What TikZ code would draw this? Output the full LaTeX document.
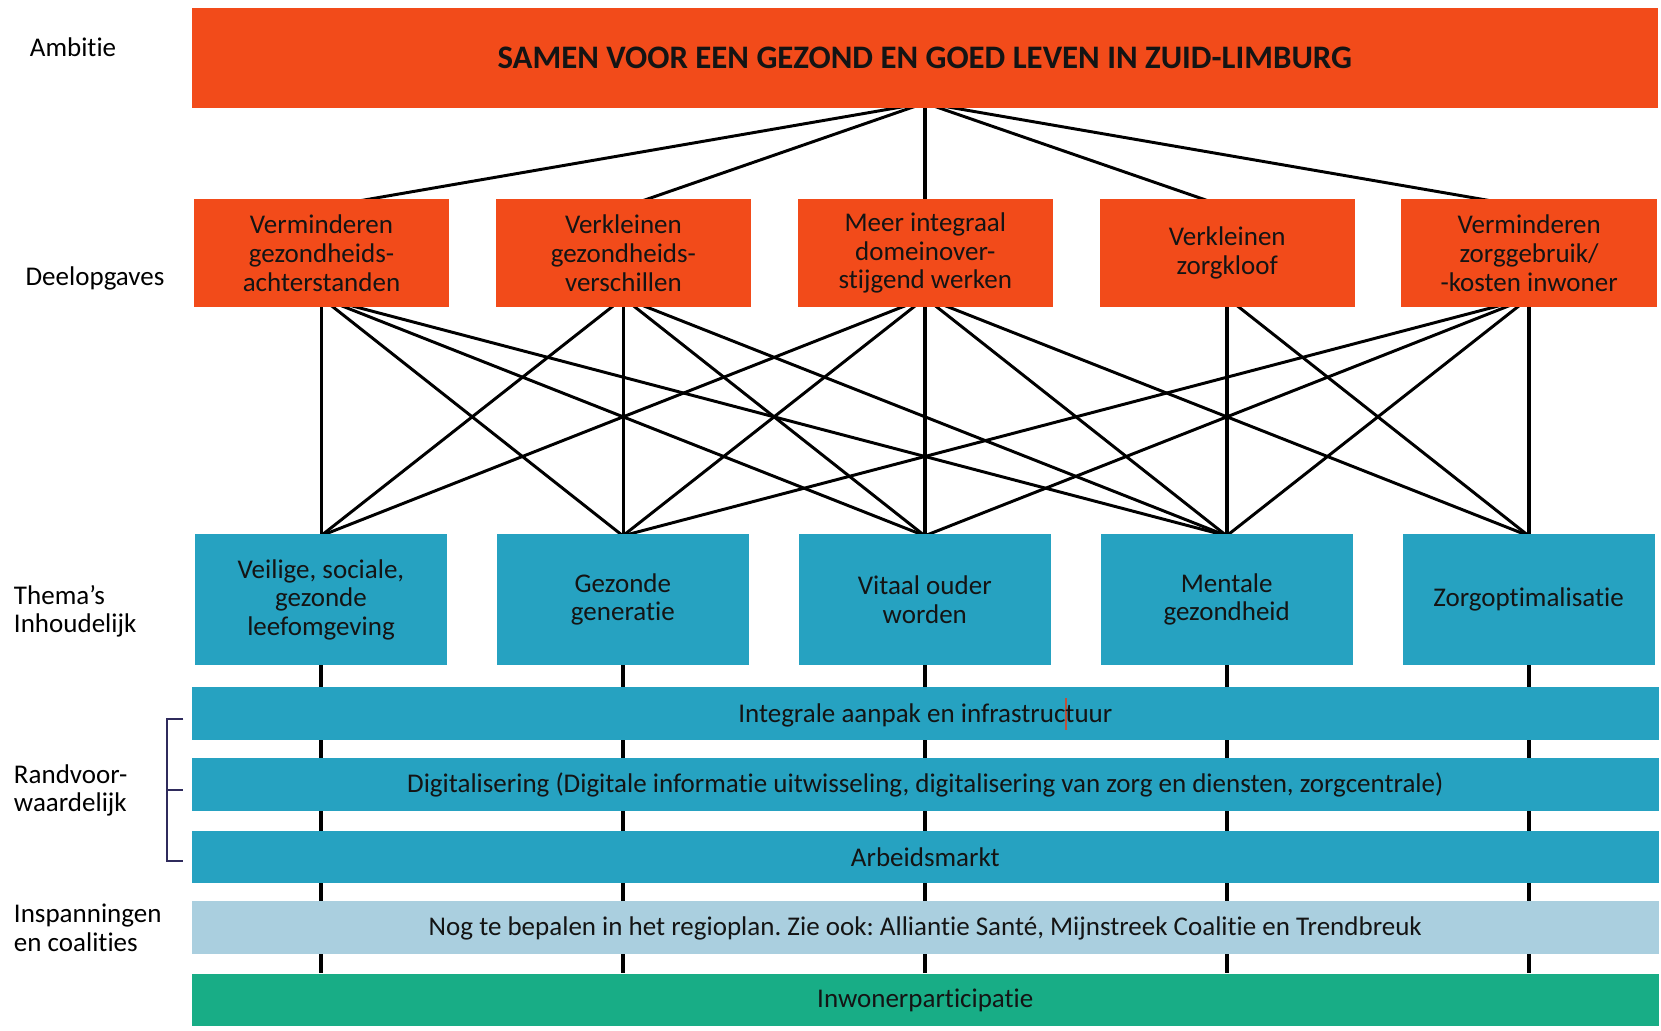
\documentclass[tikz,border=0pt]{standalone}
\usepackage{fontspec}
\setmainfont[Ligatures=NoCommon]{Carlito}
\usetikzlibrary{backgrounds}
\definecolor{cOrange}{HTML}{F24B1A}
\definecolor{cTeal}{HTML}{26A2C1}
\definecolor{cLight}{HTML}{AACFDF}
\definecolor{cGreen}{HTML}{18AD86}
\definecolor{cNavy}{HTML}{2F2B5C}
\definecolor{cCursor}{HTML}{C0503A}
\definecolor{cText}{HTML}{141414}
\frenchspacing
\begin{document}
\begin{tikzpicture}[x=1pt,y=-1pt,
  basebox/.style={draw=none, inner sep=0pt, align=center, text=cText,
    font=\fontsize{25.5}{27}\selectfont},
  ambbox/.style={basebox, fill=cOrange, minimum width=1384pt, minimum height=94pt,
    font=\fontsize{31}{36}\selectfont\bfseries},
  dbox/.style={basebox, fill=cOrange, minimum width=241pt, minimum height=102pt},
  tbox/.style={basebox, fill=cTeal, minimum width=238pt, minimum height=124pt},
  bar/.style={basebox, fill=cTeal, minimum width=1385pt, minimum height=50pt},
  lbar/.style={bar, fill=cLight},
  gbar/.style={bar, fill=cGreen},
  lbl/.style={anchor=west, align=left, inner sep=0pt, text=black,
    font=\fontsize{25.5}{27}\selectfont},
  edge/.style={draw=black, line width=2.8pt},
  vedge/.style={draw=black, line width=3.6pt},
  bracket/.style={draw=cNavy, line width=2pt}
]
\useasboundingbox (0,0) rectangle (1568,973);

% Ambition
\node[ambbox] (A) at (873,55) {SAMEN VOOR EEN GEZOND EN GOED LEVEN IN ZUID-LIMBURG};

% Deelopgaves
\node[dbox] (D1) at (303.5,239) {Verminderen\\gezondheids-\\achterstanden};
\node[dbox] (D2) at (588.5,239) {Verkleinen\\gezondheids-\\verschillen};
\node[dbox] (D3) at (873.5,239) {Meer integraal\\domeinover-\\stijgend werken};
\node[dbox] (D4) at (1158.5,239) {Verkleinen\\zorgkloof};
\node[dbox] (D5) at (1443.5,239) {Verminderen\\zorggebruik/\\-kosten inwoner};

% Themes
\node[tbox] (T1) at (303,566) {Veilige, sociale,\\gezonde\\leefomgeving};
\node[tbox] (T2) at (588,566) {Gezonde\\generatie};
\node[tbox] (T3) at (873,566) {Vitaal ouder\\worden};
\node[tbox] (T4) at (1158,566) {Mentale\\gezondheid};
\node[tbox] (T5) at (1443,566) {Zorgoptimalisatie};

% Bars
\node[bar] (B1) at (873.5,674) {Integrale aanpak en infrastruc\rlap{\color{cCursor}\rule[-0.25em]{1pt}{1.15em}}tuur};
\node[bar] (B2) at (873.5,741) {Digitalisering (Digitale informatie uitwisseling, digitalisering van zorg en diensten, zorgcentrale)};
\node[bar] (B3) at (873.5,809) {Arbeidsmarkt};
\node[lbar] (B4) at (873.5,876) {Nog te bepalen in het regioplan. Zie ook: Alliantie Santé, Mijnstreek Coalitie en Trendbreuk};
\node[gbar] (B5) at (873.5,944) {Inwonerparticipatie};

% Left labels
\node[lbl] (L1) at (28,45) {Ambitie};
\node[lbl] (L2) at (24,263) {Deelopgaves};
\node[lbl] (L3) at (13,577) {Thema’s\\Inhoudelijk};
\node[lbl] (L4) at (13,746) {Randvoor-\\waardelijk};
\node[lbl] (L5) at (13,876) {Inspanningen\\en coalities};

% Bracket
\draw[bracket] (173,679) -- (158,679) -- (158,813) -- (173,813);
\draw[bracket] (158,746) -- (173,746);

\begin{scope}[on background layer]
  % ambition to deelopgaves
  \foreach \i in {1,2,4,5}
    \draw[edge] ([yshift=5pt]A.south) -- ([yshift=-8pt]D\i.north);
  \draw[vedge] (A.south) -- (A.south |- D3.north);
  % deelopgaves to themes
  \foreach \d/\t in {1/2,1/3,1/4,2/1,2/3,2/4,3/1,3/2,3/4,3/5,4/5,5/2,5/3,5/4}
    \draw[edge] ([yshift=9pt]D\d.south) -- ([yshift=-2pt]T\t.north);
  \draw[edge] (D1.south) -- (D1.south |- T1.north);
  \foreach \i in {2,...,5}
    \draw[vedge] (D\i.south) -- (D\i.south |- T\i.north);
  % themes down through bars
  \foreach \i in {1,...,5}
    \draw[vedge] (T\i.south) -- (T\i.south |- B5.north);
\end{scope}
\end{tikzpicture}
\end{document}
